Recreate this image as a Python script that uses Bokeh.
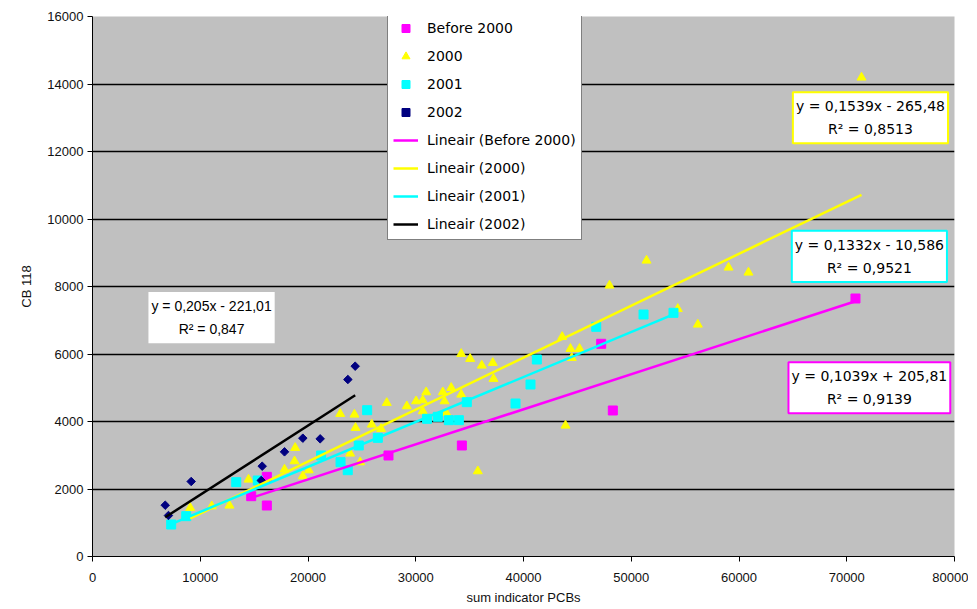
import math
from bokeh.plotting import figure
from bokeh.models import Legend, LegendItem, Label, FixedTicker, Range1d
from bokeh.embed import file_html
from bokeh.resources import INLINE

# ---------------- data ----------------
series_names = ["Before 2000", "2000", "2001", "2002"]

before_x = [14730, 16180, 16180, 27470, 34280, 47210, 48290, 70810]
before_y = [1787, 2360, 1511, 2993, 3289, 6302, 4326, 7644]

y2000_x = [9070, 11070, 12710, 14480, 17820, 18750, 18810, 19520, 20070, 22990,
           23910, 24310, 24410, 24840, 25920, 26780, 27310, 29170, 30030, 30650,
           30650, 30970, 32510, 32670, 32830, 33290, 34220, 34220, 35050, 35760,
           36130, 37150, 37220, 43590, 43900, 44360, 44480, 45200, 47980, 51420,
           54320, 56180, 59030, 60880, 71370]
y2000_y = [1442, 1490, 1511, 2281, 2578, 2825, 3220, 2380, 2557, 4227,
           3052, 4207, 3812, 2795, 3911, 3783, 4553, 4454, 4602, 4306,
           4632, 4869, 4869, 4602, 4258, 4998, 4800, 6006, 5858, 2528,
           5659, 5739, 5265, 6509, 3881, 6154, 5887, 6154, 8030, 8770,
           7339, 6874, 8563, 8415, 14193]

y2001_x = [7300, 8700, 13340, 15340, 21220, 23020, 23690, 24710, 25490, 26480,
           31050, 32050, 33070, 34000, 34740, 39260, 40650, 41240, 46750, 51140,
           53920]
y2001_y = [948, 1195, 2202, 2252, 2993, 2795, 2557, 3289, 4335, 3516,
           4080, 4139, 4039, 4039, 4573, 4533, 5096, 5837, 6806, 7170,
           7220]

y2002_x = [6750, 7050, 9160, 15660, 15750, 17820, 19520, 21130, 23700, 24380]
y2002_y = [1520, 1215, 2222, 2252, 2676, 3101, 3506, 3486, 5244, 5639]

# trendline coefficients (Before 2000, 2000, 2001, 2002)
slopes = [0.1039, 0.1539, 0.1332, 0.205]
intercepts = [205.81, -265.48, -10.586, -221.01]
trend_labels = ["Lineair (Before 2000)", "Lineair (2000)", "Lineair (2001)", "Lineair (2002)"]
eq_texts = ["y = 0,1039x + 205,81\nR² = 0,9139",
            "y = 0,1539x - 265,48\nR² = 0,8513",
            "y = 0,1332x - 10,586\nR² = 0,9521",
            "y = 0,205x - 221,01\nR² = 0,847"]

x_ticks = [0, 10000, 20000, 30000, 40000, 50000, 60000, 70000, 80000]
y_ticks = [0, 2000, 4000, 6000, 8000, 10000, 12000, 14000, 16000]

# ---------------- styling ----------------
FONT = "Liberation Sans"
WIDE = "DejaVu Sans"
colors = ["#FF00FF", "#FFFF00", "#00FFFF", "#000080"]
line_colors = ["#FF00FF", "#FFFF00", "#00FFFF", "#000000"]

p = figure(frame_width=862, frame_height=540, output_backend="svg", toolbar_location=None,
           x_range=Range1d(0, 80000), y_range=Range1d(0, 16000),
           min_border_left=92, min_border_right=14, min_border_top=16, min_border_bottom=40)
p.background_fill_color = "#C0C0C0"
p.border_fill_color = "white"
p.outline_line_color = None

p.xgrid.visible = False
p.ygrid.ticker = FixedTicker(ticks=y_ticks)
p.ygrid.grid_line_color = "black"
p.ygrid.grid_line_width = 1.6

for ax, ticks in ((p.xaxis[0], x_ticks), (p.yaxis[0], y_ticks)):
    ax.ticker = FixedTicker(ticks=ticks)
    ax.major_label_overrides = {t: str(t) for t in ticks}
    ax.axis_line_color = "black"
    ax.major_tick_line_color = "black"
    ax.major_tick_in = 0
    ax.major_tick_out = 5
    ax.minor_tick_line_color = None
    ax.major_label_text_font = FONT
    ax.major_label_text_font_size = "13px"
    ax.major_label_text_color = "#111111"
    ax.axis_label_text_font = FONT
    ax.axis_label_text_font_size = "13px"
    ax.axis_label_text_font_style = "normal"
    ax.axis_label_text_color = "#111111"

p.xaxis.axis_label = "sum indicator PCBs"
p.yaxis.axis_label = "CB 118"
p.xaxis.major_label_standoff = 11
p.xaxis.axis_label_standoff = 5
p.yaxis.major_label_standoff = 4
p.yaxis.axis_label_standoff = 10

# ---------------- marks ----------------
xs = [before_x, y2000_x, y2001_x, y2002_x]
ys = [before_y, y2000_y, y2001_y, y2002_y]
markers = ["square", "triangle", "square", "square"]
sizes = [9, 9, 9, 6]
angles = [0, 0, 0, math.pi / 4]

scatter_r = []
for sx, sy, m, c, s, a in zip(xs, ys, markers, colors, sizes, angles):
    r = p.scatter(sx, sy, marker=m, size=s, angle=a, fill_color=c, line_color=c)
    scatter_r.append(r)

line_r = []
for sx, a, b, c in zip(xs, slopes, intercepts, line_colors):
    x0, x1 = min(sx), max(sx)
    r = p.line([x0, x1], [a * x0 + b, a * x1 + b], line_color=c, line_width=2.5)
    line_r.append(r)

items = [LegendItem(label=n, renderers=[r]) for n, r in zip(series_names, scatter_r)]
items += [LegendItem(label=n, renderers=[r]) for n, r in zip(trend_labels, line_r)]
legend = Legend(items=items, location=(295, 316),
                border_line_color="black", border_line_width=1,
                background_fill_color="white", background_fill_alpha=1,
                label_text_font=WIDE, label_text_font_size="14px",
                label_text_color="black",
                glyph_width=25, glyph_height=20, label_height=20,
                spacing=8, padding=5, margin=0, label_standoff=9)
p.add_layout(legend)

# equation boxes
eq_pos = [(72100, 5000), (72200, 13000), (72100, 8890), (11050, 7080)]
eq_border = ["#FF00FF", "#FFFF00", "#00FFFF", None]
eq_font = [WIDE, WIDE, WIDE, FONT]
for (ex, ey), t, bc, f in zip(eq_pos, eq_texts, eq_border, eq_font):
    lab = Label(x=ex, y=ey, text=t, text_align="center", text_baseline="middle",
                text_font=f, text_font_size="14px", text_color="black",
                text_line_height=1.45,
                background_fill_color="white", background_fill_alpha=1,
                border_line_color=bc, border_line_width=2,
                padding=dict(left=3, right=3, top=6, bottom=6))
    p.add_layout(lab)

open("out.html", "w").write(file_html(p, INLINE))
